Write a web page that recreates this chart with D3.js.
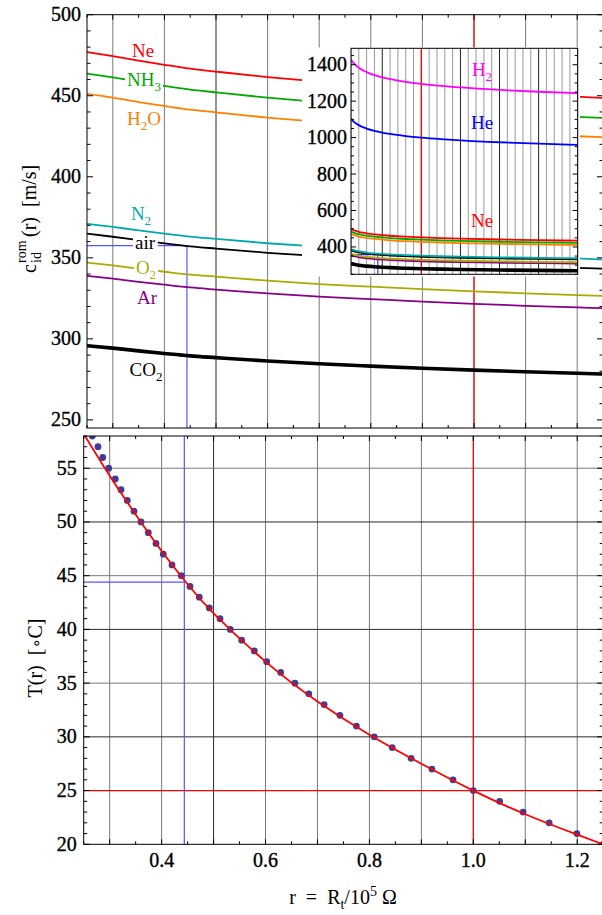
<!DOCTYPE html>
<html><head><meta charset="utf-8">
<script src="https://cdn.jsdelivr.net/npm/d3@7"></script>
<style>body{margin:0;background:#fff}svg{display:block}text{font-family:"Liberation Serif","DejaVu Serif",serif}</style>
</head><body><svg id="c" width="602" height="915"></svg>
<script>
// ---------- data ----------
const rMain = [0.25,0.3,0.35,0.4,0.45,0.5,0.6,0.7,0.8,0.9,1.0,1.1,1.2,1.25];
const cNe   = [476.9,474.4,471.7,469.1,466.7,464.9,461.5,458.7,456.5,454.4,452.5,450.8,449.4,448.7];
const cNH3  = [463.7,461.3,458.7,456.1,453.8,452.1,448.8,446.1,443.9,441.8,440.0,438.4,437.0,436.3];
const cH2O  = [451.1,448.8,446.1,443.7,441.4,439.8,436.5,433.9,431.8,429.8,428.0,426.4,425.0,424.4];
const cN2   = [371.0,369.1,366.9,364.9,363.1,361.7,359.0,356.9,355.1,353.5,352.0,350.7,349.6,349.0];
const cAir  = [364.9,363.0,360.9,358.9,357.1,355.7,353.1,351.0,349.3,347.7,346.2,344.9,343.8,343.3];
const cO2   = [347.0,345.3,343.3,341.4,339.6,338.4,335.9,333.8,332.2,330.7,329.3,328.1,327.0,326.5];
const cAr   = [338.9,337.2,335.2,333.4,331.7,330.4,328.0,326.0,324.5,323.0,321.6,320.4,319.4,318.9];
const cCO2  = [295.8,294.3,292.6,291.0,289.5,288.4,286.3,284.6,283.2,281.9,280.7,279.7,278.8,278.3];

const rInset = [0.1,0.15,0.2,0.25,0.3,0.4,0.5,0.6,0.8,1.0,1.25,1.5,2.0,2.5,3.0];
const iH2  = [1427.6,1401.2,1383.4,1369.9,1359.5,1343.2,1331.0,1321.2,1306.3,1295.0,1284.1,1275.3,1261.8,1251.6,1243.5];
const iHe  = [1102.4,1082.0,1068.3,1057.8,1049.8,1037.2,1027.8,1020.2,1008.7,1000.0,991.6,984.8,974.4,966.5,960.2];
const iNe  = [498.8,489.6,483.4,478.7,475.0,469.3,465.1,461.6,456.4,452.5,448.7,445.6,440.9,437.3,434.5];
const iNH3 = [485.1,476.1,470.1,465.4,461.9,456.4,452.2,448.9,443.8,440.0,436.3,433.3,428.7,425.3,422.5];
const iH2O = [471.8,463.1,457.2,452.7,449.3,443.9,439.9,436.6,431.7,428.0,424.4,421.5,417.0,413.7,411.0];
const iN2  = [388.0,380.9,376.0,372.3,369.5,365.1,361.8,359.1,355.1,352.0,349.0,346.6,343.0,340.2,338.0];
const iAir = [381.7,374.6,369.8,366.2,363.4,359.1,355.8,353.2,349.2,346.2,343.3,340.9,337.3,334.6,332.4];
const iO2  = [363.0,356.3,351.8,348.3,345.7,341.6,338.5,336.0,332.2,329.3,326.5,324.3,320.9,318.3,316.2];
const iAr  = [354.5,348.0,343.6,340.2,337.6,333.6,330.5,328.1,324.4,321.6,318.9,316.7,313.4,310.8,308.8];
const iCO2 = [309.4,303.7,299.9,296.9,294.7,291.1,288.5,286.4,283.1,280.7,278.3,276.4,273.5,271.3,269.5];

const rFit = [0.25,0.3,0.35,0.4,0.45,0.5,0.6,0.7,0.8,0.9,1.0,1.1,1.2,1.25];
const tFit = [58.2,54.3,50.7,47.3,44.2,41.5,37.0,33.3,30.2,27.5,25.0,22.8,20.9,20.0];

const dotT = [58,57,56,55,54,53,52,51,50,49,48,47,46,45,44,43,42,41,40,39,38,37,36,35,34,33,32,31,30,29,28,27,26,25,24,23,22,21,20];
const dotR = [0.2666,0.2775,0.2866,0.2981,0.3108,0.3218,0.3339,0.3468,0.3603,0.3744,0.3892,0.4032,0.4200,0.4379,0.4546,0.4725,0.4918,0.5124,0.5322,0.5541,0.5784,0.6022,0.6292,0.6565,0.6833,0.7128,0.7432,0.7749,0.8092,0.8438,0.8802,0.9203,0.9609,1.0000,1.0506,1.0958,1.1460,1.1994,1.2497];

const rMark = 0.4437, tMark = 44.4, cMark = 357.5;   // blue guide
const rRef = 1.0, tRef = 25;                          // red guide

const yTopTicks = [250,300,350,400,450,500];
const yBotTicks = [20,25,30,35,40,45,50,55];
const xTicks = [0.4,0.6,0.8,1.0,1.2];
const yInsetTicks = [400,600,800,1000,1200,1400];

const gases = [
  {name:"Ne",  v:cNe,  iv:iNe,  color:"#ff0000", w:1.8},
  {name:"NH3", v:cNH3, iv:iNH3, color:"#00aa00", w:1.8},
  {name:"H2O", v:cH2O, iv:iH2O, color:"#ff8000", w:1.8},
  {name:"N2",  v:cN2,  iv:iN2,  color:"#00aaaa", w:1.8},
  {name:"air", v:cAir, iv:iAir, color:"#000000", w:1.8},
  {name:"O2",  v:cO2,  iv:iO2,  color:"#aaaa00", w:1.8},
  {name:"Ar",  v:cAr,  iv:iAr,  color:"#880088", w:1.8},
  {name:"CO2", v:cCO2, iv:iCO2, color:"#000000", w:3.6}
];

// ---------- layout ----------
const svg = d3.select("#c");
const xT = d3.scaleLinear([0.25,1.25],[87,603]);
const yT = d3.scaleLinear([245,500],[428,14.7]);
const xB = d3.scaleLinear([0.25,1.25],[83.7,603.2]);
const yB = d3.scaleLinear([20,58],[844.3,436]);
const xI = d3.scaleLinear([0.1,3.0],[351,577.7]);
const yI = d3.scaleLinear([250,1490],[274.3,48.3]);

const defs = svg.append("defs");
function clip(id,x0,y0,x1,y1){defs.append("clipPath").attr("id",id).append("rect").attr("x",x0).attr("y",y0).attr("width",x1-x0).attr("height",y1-y0);}
clip("cT",xT(0.25),yT(500),xT(1.25),yT(245));
clip("cB",xB(0.25),yB(58),xB(1.25),yB(20));
clip("cI",xI(0.1),yI(1490),xI(3.0),yI(250));

const gridC = "#7a7a7a", majC = "#2a2a2a";
const gridX = d3.range(3,13).map(i=>i/10);
function tickText(g,x,y,anchor,txt){
  return g.append("text").attr("x",x).attr("y",y).attr("text-anchor",anchor).attr("font-size",20)
    .attr("stroke","#000").attr("stroke-width",0.35).text(txt);
}

// ===== TOP PANEL =====
const gT = svg.append("g");
const gTc = gT.append("g").attr("clip-path","url(#cT)");
gridX.forEach(v=>{
  gTc.append("line").attr("x1",xT(v)).attr("x2",xT(v)).attr("y1",yT(500)).attr("y2",yT(245))
    .attr("stroke", Math.abs(v-0.5)<1e-9?majC:gridC).attr("stroke-width",1);
});
gTc.append("line").attr("x1",xT(rRef)).attr("x2",xT(rRef)).attr("y1",yT(500)).attr("y2",yT(245)).attr("stroke","#ff0000").attr("stroke-width",1.2);
gTc.append("path").attr("d",`M${xT(0.25)},${yT(cMark)}H${xT(rMark)}V${yT(245)}`).attr("fill","none").attr("stroke","#5555ff").attr("stroke-width",1.2);
const lineT = v=>d3.line().x((d,i)=>xT(rMain[i])).y(d=>yT(d)).curve(d3.curveMonotoneX)(v);
gases.slice().reverse().forEach(g=>{
  gTc.append("path").attr("d",lineT(g.v)).attr("fill","none").attr("stroke",g.color).attr("stroke-width",g.w);
});
gT.append("rect").attr("x",xT(0.25)).attr("y",yT(500)).attr("width",xT(1.25)-xT(0.25)).attr("height",yT(245)-yT(500)).attr("fill","none").attr("stroke","#000").attr("stroke-width",1);
d3.range(250,501,10).forEach(v=>{
  const L = v%50===0?6:3.5;
  gT.append("line").attr("x1",xT(0.25)).attr("x2",xT(0.25)+L).attr("y1",yT(v)).attr("y2",yT(v)).attr("stroke","#000");
  gT.append("line").attr("x1",xT(1.25)).attr("x2",xT(1.25)-L).attr("y1",yT(v)).attr("y2",yT(v)).attr("stroke","#000");
});
d3.range(0,21).map(i=>0.25+i*0.05).forEach(v=>{
  const L = Math.abs(v*10-Math.round(v*10))<1e-6?5:3;
  gT.append("line").attr("x1",xT(v)).attr("x2",xT(v)).attr("y1",yT(245)).attr("y2",yT(245)-L).attr("stroke","#000");
  gT.append("line").attr("x1",xT(v)).attr("x2",xT(v)).attr("y1",yT(500)).attr("y2",yT(500)+L).attr("stroke","#000");
});
yTopTicks.forEach(v=> tickText(gT,xT(0.25)-6,yT(v)+6.5,"end",v));

// gas labels (text with optional subscript parts)
function subLabel(g,x,y,parts,color,bg){
  const t = g.append("text").attr("x",x).attr("y",y).attr("font-size",19).attr("fill",color).attr("text-anchor","middle");
  let shift = 0;
  parts.forEach(p=>{
    const s = t.append("tspan").text(p.t);
    if(p.sub){ s.attr("font-size",13).attr("dy",5-shift); shift = 5; }
    else if(shift){ s.attr("dy",-shift); shift = 0; }
  });
  if(bg){
    const b = t.node().getBBox();
    g.insert("rect",()=>t.node()).attr("x",b.x-2).attr("y",b.y+2).attr("width",b.width+4).attr("height",b.height-4).attr("fill","#fff");
  }
  return t;
}
const gL = gT.append("g");
subLabel(gL,143,57,[{t:"Ne"}],"#ff0000",false);
subLabel(gL,144,86,[{t:"NH"},{t:"3",sub:true}],"#00aa00",true);
subLabel(gL,144,125,[{t:"H"},{t:"2",sub:true},{t:"O"}],"#ff8000",false);
subLabel(gL,141,220,[{t:"N"},{t:"2",sub:true}],"#00aaaa",false);
subLabel(gL,145,249,[{t:"air"}],"#000",true);
subLabel(gL,146,274,[{t:"O"},{t:"2",sub:true}],"#aaaa00",true);
subLabel(gL,147,304,[{t:"Ar"}],"#880088",false);
subLabel(gL,146,376,[{t:"CO"},{t:"2",sub:true}],"#000",false);

// ===== INSET =====
const gI = svg.append("g");
gI.append("rect").attr("x",302).attr("y",47.5).attr("width",278).attr("height",229).attr("fill","#fff");
const gIc = gI.append("g").attr("clip-path","url(#cI)");
d3.range(1,31).map(i=>i/10).forEach(v=>{
  const major = Math.abs(v*2-Math.round(v*2))<1e-6;
  gIc.append("line").attr("x1",xI(v)).attr("x2",xI(v)).attr("y1",yI(1490)).attr("y2",yI(250))
    .attr("stroke", major?"#222":"#9a9a9a").attr("stroke-width",1);
});
gIc.append("line").attr("x1",xI(rRef)).attr("x2",xI(rRef)).attr("y1",yI(1490)).attr("y2",yI(250)).attr("stroke","#ff0000").attr("stroke-width",1.2);
gIc.append("path").attr("d",`M${xI(0.1)},${yI(cMark)}H${xI(rMark)}V${yI(250)}`).attr("fill","none").attr("stroke","#3333ff").attr("stroke-width",1.2);
const lineI = v=>d3.line().x((d,i)=>xI(rInset[i])).y(d=>yI(d)).curve(d3.curveMonotoneX)(v);
gases.slice().reverse().forEach(g=>{
  gIc.append("path").attr("d",lineI(g.iv)).attr("fill","none").attr("stroke",g.color).attr("stroke-width",g.w);
});
gIc.append("path").attr("d",lineI(iHe)).attr("fill","none").attr("stroke","#0000ff").attr("stroke-width",1.8);
gIc.append("path").attr("d",lineI(iH2)).attr("fill","none").attr("stroke","#ff00ff").attr("stroke-width",1.8);
gI.append("rect").attr("x",xI(0.1)).attr("y",yI(1490)).attr("width",xI(3.0)-xI(0.1)).attr("height",yI(250)-yI(1490)).attr("fill","none").attr("stroke","#000");
d3.range(250,1491,50).forEach(v=>{
  const L = v%200===0?5:3;
  gI.append("line").attr("x1",xI(0.1)).attr("x2",xI(0.1)+L).attr("y1",yI(v)).attr("y2",yI(v)).attr("stroke","#000");
  gI.append("line").attr("x1",xI(3.0)).attr("x2",xI(3.0)-L).attr("y1",yI(v)).attr("y2",yI(v)).attr("stroke","#000");
});
yInsetTicks.forEach(v=> tickText(gI,xI(0.1)-4,yI(v)+6.5,"end",v));
subLabel(gI,482,76,[{t:"H"},{t:"2",sub:true}],"#ff00ff",false);
subLabel(gI,482,129,[{t:"He"}],"#0000ff",false);
subLabel(gI,482,227,[{t:"Ne"}],"#ff0000",false);

// ===== BOTTOM PANEL =====
const gB = svg.append("g");
const gBc = gB.append("g").attr("clip-path","url(#cB)");
gridX.forEach(v=>{
  gBc.append("line").attr("x1",xB(v)).attr("x2",xB(v)).attr("y1",yB(58)).attr("y2",yB(20))
    .attr("stroke", Math.abs(v-0.5)<1e-9?majC:gridC).attr("stroke-width",1);
});
[30,35,40,45,50,55].forEach(v=>{
  gBc.append("line").attr("x1",xB(0.25)).attr("x2",xB(1.25)).attr("y1",yB(v)).attr("y2",yB(v))
    .attr("stroke", v%10===0?majC:gridC).attr("stroke-width",1);
});
gBc.append("line").attr("x1",xB(0.25)).attr("x2",xB(1.25)).attr("y1",yB(tRef)).attr("y2",yB(tRef)).attr("stroke","#ff0000").attr("stroke-width",1.2);
gBc.append("line").attr("x1",xB(rRef)).attr("x2",xB(rRef)).attr("y1",yB(58)).attr("y2",yB(20)).attr("stroke","#ff0000").attr("stroke-width",1.2);
gBc.append("line").attr("x1",xB(rMark)).attr("x2",xB(rMark)).attr("y1",yB(58)).attr("y2",yB(20)).attr("stroke","#5555ff").attr("stroke-width",1.2);
gBc.append("line").attr("x1",xB(0.25)).attr("x2",xB(rMark)).attr("y1",yB(tMark)).attr("y2",yB(tMark)).attr("stroke","#5555ff").attr("stroke-width",1.2);
gBc.selectAll("circle.d").data(dotT).join("circle").attr("class","d")
  .attr("cx",(d,i)=>xB(dotR[i])).attr("cy",d=>yB(d)).attr("r",3.4).attr("fill","#3d3d99");
gBc.append("path").attr("d",d3.line().x((d,i)=>xB(rFit[i])).y(d=>yB(d)).curve(d3.curveNatural)(tFit))
  .attr("fill","none").attr("stroke","#ff0000").attr("stroke-width",1.8);
gB.append("rect").attr("x",xB(0.25)).attr("y",yB(58)).attr("width",xB(1.25)-xB(0.25)).attr("height",yB(20)-yB(58)).attr("fill","none").attr("stroke","#000").attr("stroke-width",1);
d3.range(20,59,1).forEach(v=>{
  const L = v%5===0?6:3.5;
  gB.append("line").attr("x1",xB(0.25)).attr("x2",xB(0.25)+L).attr("y1",yB(v)).attr("y2",yB(v)).attr("stroke","#000");
  gB.append("line").attr("x1",xB(1.25)).attr("x2",xB(1.25)-L).attr("y1",yB(v)).attr("y2",yB(v)).attr("stroke","#000");
});
d3.range(0,21).map(i=>0.25+i*0.05).forEach(v=>{
  const L = Math.abs(v*10-Math.round(v*10))<1e-6?5:3;
  gB.append("line").attr("x1",xB(v)).attr("x2",xB(v)).attr("y1",yB(20)).attr("y2",yB(20)-L).attr("stroke","#000");
  gB.append("line").attr("x1",xB(v)).attr("x2",xB(v)).attr("y1",yB(58)).attr("y2",yB(58)+L).attr("stroke","#000");
});
yBotTicks.forEach(v=> tickText(gB,xB(0.25)-7,yB(v)+6.5,"end",v));
xTicks.forEach(v=> tickText(gB,xB(v),867,"middle",v.toFixed(1)));

// axis titles
const NB = "\u00A0";
const xl = svg.append("text").attr("x",343).attr("y",904).attr("text-anchor","middle").attr("font-size",20);
xl.append("tspan").text("r"+NB+NB+"="+NB+NB+"R");
xl.append("tspan").attr("font-size",14).attr("dy",5).text("t");
xl.append("tspan").attr("dy",-5).text("/10");
xl.append("tspan").attr("font-size",14).attr("dy",-8).text("5");
xl.append("tspan").attr("dy",8).text(NB+"\u03A9");

const yl1 = svg.append("g").attr("transform","translate(36,218) rotate(-90)");
yl1.append("text").attr("x",-55).attr("y",0).attr("font-size",20).text("c");
yl1.append("text").attr("x",-45).attr("y",-10).attr("font-size",14).text("rom");
yl1.append("text").attr("x",-45).attr("y",5).attr("font-size",14).text("id");
yl1.append("text").attr("x",-19).attr("y",0).attr("font-size",20).text("(r)"+NB+NB+"[m/s]");

const yl2 = svg.append("g").attr("transform","translate(42,658) rotate(-90)");
const t2 = yl2.append("text").attr("x",0).attr("y",0).attr("text-anchor","middle").attr("font-size",20);
t2.append("tspan").text("T(r)"+NB+NB+"[");
t2.append("tspan").attr("font-family","DejaVu Sans").attr("font-size",16).text("\u2218");
t2.append("tspan").text("C]");
</script></body></html>
